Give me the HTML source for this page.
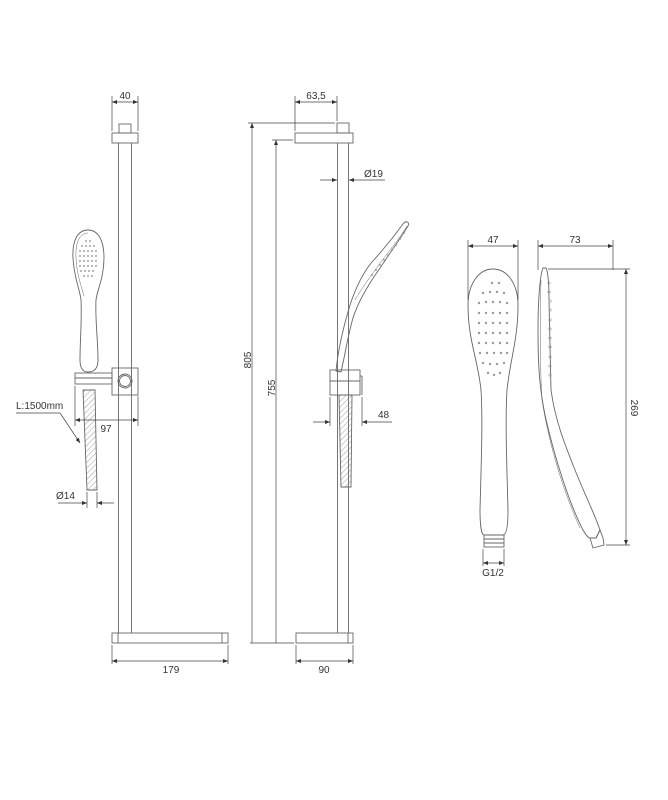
<!DOCTYPE html>
<html><head><meta charset="utf-8"><style>
html,body{margin:0;padding:0;background:#fff;}
svg{display:block;}
text{font-family:"Liberation Sans",sans-serif;font-size:10px;fill:#333;}
</style></head><body>
<svg width="668" height="800" viewBox="0 0 668 800" xmlns="http://www.w3.org/2000/svg">
<defs>
<marker id="a" viewBox="0 0 10 10" refX="10" refY="5" markerWidth="7" markerHeight="5" orient="auto-start-reverse" markerUnits="userSpaceOnUse"><path d="M0,1 L10,5 L0,9z" fill="#333"/></marker>
<pattern id="h" width="4" height="4" patternUnits="userSpaceOnUse" patternTransform="rotate(45)"><line x1="0" y1="0" x2="0" y2="4" stroke="#777" stroke-width="0.7"/></pattern>
</defs>
<g fill="none" stroke="#666" stroke-width="0.9">
<rect x="119" y="124" width="12" height="9"/>
<rect x="112" y="133" width="26" height="10"/>
<line x1="118.5" y1="143" x2="118.5" y2="633"/>
<line x1="131.5" y1="143" x2="131.5" y2="633"/>
<rect x="112" y="633" width="116" height="10"/>
<line x1="118" y1="633" x2="118" y2="643"/>
<line x1="222" y1="633" x2="222" y2="643"/>
<rect x="112" y="368" width="26" height="27"/>
<circle cx="125" cy="381" r="7"/><circle cx="125" cy="381" r="5.5"/>
<rect x="75" y="373" width="37" height="11"/>
<line x1="75" y1="378" x2="112" y2="378"/>
<path d="M83,390 L95,390 L97,490 L87,490 Z" fill="url(#h)"/>
<path d="M88,230 C78,230 72,240 73,258 C74,278 80,290 81,300 C82,320 80,340 80,360 C80,368 83,372 88,372 C95,372 98,368 98,360 C98,340 95,320 96,300 C97,290 104,278 104,258 C104,240 98,230 88,230 Z"/>
<path d="M88,233 C80,233 75,242 76,258 C77,276 82,288 84,296" stroke-width="0.5"/>
</g>
<g fill="#888">
<circle cx="86" cy="241" r="0.9"/><circle cx="90" cy="241" r="0.9"/>
<circle cx="82" cy="246" r="0.9"/><circle cx="86" cy="246" r="0.9"/><circle cx="90" cy="246" r="0.9"/><circle cx="94" cy="246" r="0.9"/>
<circle cx="80" cy="251" r="0.9"/><circle cx="84" cy="251" r="0.9"/><circle cx="88" cy="251" r="0.9"/><circle cx="92" cy="251" r="0.9"/><circle cx="96" cy="251" r="0.9"/>
<circle cx="80" cy="256" r="0.9"/><circle cx="84" cy="256" r="0.9"/><circle cx="88" cy="256" r="0.9"/><circle cx="92" cy="256" r="0.9"/><circle cx="96" cy="256" r="0.9"/>
<circle cx="80" cy="261" r="0.9"/><circle cx="84" cy="261" r="0.9"/><circle cx="88" cy="261" r="0.9"/><circle cx="92" cy="261" r="0.9"/><circle cx="96" cy="261" r="0.9"/>
<circle cx="80" cy="266" r="0.9"/><circle cx="84" cy="266" r="0.9"/><circle cx="88" cy="266" r="0.9"/><circle cx="92" cy="266" r="0.9"/><circle cx="96" cy="266" r="0.9"/>
<circle cx="81" cy="271" r="0.9"/><circle cx="85" cy="271" r="0.9"/><circle cx="89" cy="271" r="0.9"/><circle cx="93" cy="271" r="0.9"/>
<circle cx="84" cy="276" r="0.9"/><circle cx="88" cy="276" r="0.9"/><circle cx="92" cy="276" r="0.9"/>
</g>
<g fill="none" stroke="#444" stroke-width="0.7">
<line x1="112" y1="96" x2="112" y2="131"/><line x1="138" y1="96" x2="138" y2="131"/>
<line x1="112" y1="102" x2="138" y2="102" marker-start="url(#a)" marker-end="url(#a)"/>
<line x1="75" y1="386" x2="75" y2="426"/><line x1="138" y1="396" x2="138" y2="426"/>
<line x1="75" y1="420" x2="138" y2="420" marker-start="url(#a)" marker-end="url(#a)"/>
<line x1="16" y1="413" x2="60" y2="413"/>
<line x1="60" y1="413" x2="80" y2="443" marker-end="url(#a)"/>
<line x1="87" y1="492" x2="87" y2="508"/><line x1="97" y1="492" x2="97" y2="508"/>
<line x1="58" y1="503" x2="87" y2="503" marker-end="url(#a)"/>
<line x1="114" y1="503" x2="97" y2="503" marker-end="url(#a)"/>
<line x1="112" y1="645" x2="112" y2="664"/><line x1="228" y1="645" x2="228" y2="664"/>
<line x1="112" y1="661" x2="228" y2="661" marker-start="url(#a)" marker-end="url(#a)"/>
</g>
<text x="125" y="99" text-anchor="middle">40</text>
<text x="106" y="432" text-anchor="middle">97</text>
<text x="16" y="409">L:1500mm</text>
<text x="56" y="499">Ø14</text>
<text x="171" y="673" text-anchor="middle">179</text>

<g fill="none" stroke="#666" stroke-width="0.9">
<rect x="337" y="123" width="12" height="10"/>
<rect x="295" y="133" width="58" height="10"/>
<line x1="337.5" y1="143" x2="337.5" y2="633"/>
<line x1="348.5" y1="143" x2="348.5" y2="633"/>
<rect x="296" y="633" width="57" height="10"/>
<line x1="348" y1="633" x2="348" y2="643"/>
<rect x="330" y="370" width="30" height="11"/>
<rect x="330" y="381" width="30" height="14"/>
<line x1="360" y1="376" x2="362" y2="376"/><line x1="362" y1="376" x2="362" y2="395"/>
<path d="M339,395 L352,395 L351,487 L341,487 Z" fill="url(#h)"/>
<path d="M336,371 L341,372 C345,355 348,335 353,318 C358,302 368,285 380,268 C392,250 402,236 408,226 C410,222 406,220 403,224 C395,235 383,250 372,262 C362,274 355,290 350,305 C344,325 338,350 336,371 Z"/>
<path d="M355,300 C362,288 376,268 390,250 C398,240 404,231 407,226" stroke-width="0.5"/>
</g>
<g fill="#888">
<circle cx="372" cy="275" r="0.9"/><circle cx="376" cy="270" r="0.9"/><circle cx="380" cy="265" r="0.9"/><circle cx="384" cy="260" r="0.9"/><circle cx="388" cy="255" r="0.9"/><circle cx="392" cy="250" r="0.9"/><circle cx="396" cy="245" r="0.9"/><circle cx="400" cy="239" r="0.9"/><circle cx="404" cy="233" r="0.9"/>
</g>
<g fill="none" stroke="#444" stroke-width="0.7">
<line x1="295" y1="96" x2="295" y2="131"/><line x1="337" y1="96" x2="337" y2="121"/>
<line x1="295" y1="102" x2="337" y2="102" marker-start="url(#a)" marker-end="url(#a)"/>
<line x1="248" y1="123" x2="335" y2="123"/>
<line x1="272" y1="140" x2="293" y2="140"/>
<line x1="252" y1="643" x2="252" y2="123" marker-end="url(#a)"/>
<line x1="276" y1="643" x2="276" y2="140" marker-end="url(#a)"/>
<line x1="250" y1="643" x2="294" y2="643"/>
<line x1="320" y1="180" x2="337" y2="180" marker-end="url(#a)"/>
<line x1="385" y1="180" x2="349" y2="180" marker-end="url(#a)"/>
<line x1="330" y1="397" x2="330" y2="426"/><line x1="362" y1="397" x2="362" y2="426"/>
<line x1="313" y1="422" x2="330" y2="422" marker-end="url(#a)"/>
<line x1="392" y1="422" x2="362" y2="422" marker-end="url(#a)"/>
<line x1="296" y1="645" x2="296" y2="664"/><line x1="353" y1="645" x2="353" y2="664"/>
<line x1="296" y1="661" x2="353" y2="661" marker-start="url(#a)" marker-end="url(#a)"/>
</g>
<text x="316" y="99" text-anchor="middle">63,5</text>
<text x="364" y="177">Ø19</text>
<text x="378" y="418">48</text>
<text x="324" y="673" text-anchor="middle">90</text>
<text transform="translate(251,360) rotate(-90)" text-anchor="middle">805</text>
<text transform="translate(275,388) rotate(-90)" text-anchor="middle">755</text>

<g fill="none" stroke="#666" stroke-width="0.9">
<path d="M493,269 C478,269 468,285 468,305 C468,340 478,360 481,390 C483,420 481,470 480,510 C480,528 482,535 484,535 L503,535 C506,535 508,528 508,510 C507,470 505,420 507,390 C510,360 518,340 518,305 C518,285 508,269 493,269 Z"/>
<rect x="484" y="535" width="20" height="12"/>
<line x1="484" y1="539" x2="504" y2="539"/><line x1="484" y1="543" x2="504" y2="543"/>
</g>
<g fill="#999">
<circle cx="492" cy="283" r="1.2"/><circle cx="499" cy="283" r="1.2"/>
<circle cx="483" cy="293" r="1.2"/><circle cx="490" cy="292" r="1.2"/><circle cx="497" cy="292" r="1.2"/><circle cx="504" cy="293" r="1.2"/>
<circle cx="479" cy="303" r="1.2"/><circle cx="486" cy="302" r="1.2"/><circle cx="493" cy="302" r="1.2"/><circle cx="500" cy="302" r="1.2"/><circle cx="507" cy="303" r="1.2"/>
<circle cx="479" cy="313" r="1.2"/><circle cx="486" cy="313" r="1.2"/><circle cx="493" cy="313" r="1.2"/><circle cx="500" cy="313" r="1.2"/><circle cx="507" cy="313" r="1.2"/>
<circle cx="479" cy="323" r="1.2"/><circle cx="486" cy="323" r="1.2"/><circle cx="493" cy="323" r="1.2"/><circle cx="500" cy="323" r="1.2"/><circle cx="507" cy="323" r="1.2"/>
<circle cx="479" cy="333" r="1.2"/><circle cx="486" cy="333" r="1.2"/><circle cx="493" cy="333" r="1.2"/><circle cx="500" cy="333" r="1.2"/><circle cx="507" cy="333" r="1.2"/>
<circle cx="479" cy="343" r="1.2"/><circle cx="486" cy="343" r="1.2"/><circle cx="493" cy="343" r="1.2"/><circle cx="500" cy="343" r="1.2"/><circle cx="507" cy="343" r="1.2"/>
<circle cx="480" cy="353" r="1.2"/><circle cx="487" cy="353" r="1.2"/><circle cx="494" cy="353" r="1.2"/><circle cx="501" cy="353" r="1.2"/><circle cx="507" cy="353" r="1.2"/>
<circle cx="483" cy="363" r="1.2"/><circle cx="490" cy="364" r="1.2"/><circle cx="497" cy="364" r="1.2"/><circle cx="504" cy="363" r="1.2"/>
<circle cx="488" cy="373" r="1.2"/><circle cx="494" cy="375" r="1.2"/><circle cx="500" cy="373" r="1.2"/>
</g>
<g fill="none" stroke="#666" stroke-width="0.9">
<path d="M543,268 C540,275 538,300 538,330 C538,370 540,390 545,415 C555,460 570,505 583,530 C586,535 588,538 590,538 L596,538 L600,530 C595,515 585,495 575,470 C565,445 555,420 551,390 L549,300 C549,285 548,272 546,268 Z"/>
<path d="M541,280 C540,320 540,370 542,400 C550,450 565,495 580,528" stroke-width="0.5"/>
<path d="M590,538 L596,538 L600,530 L603,538 L604,545 L593,548 Z"/>
</g>
<g fill="none" stroke="#999" stroke-width="0.6">
<circle cx="549" cy="283" r="1.2"/><circle cx="549" cy="292" r="1.2"/><circle cx="550" cy="301" r="1.2"/><circle cx="550" cy="310" r="1.2"/><circle cx="550" cy="320" r="1.2"/><circle cx="550" cy="329" r="1.2"/><circle cx="550" cy="338" r="1.2"/><circle cx="550" cy="347" r="1.2"/><circle cx="550" cy="357" r="1.2"/><circle cx="550" cy="366" r="1.2"/><circle cx="550" cy="375" r="1.2"/>
</g>
<g fill="none" stroke="#444" stroke-width="0.7">
<line x1="468" y1="240" x2="468" y2="300"/><line x1="518" y1="240" x2="518" y2="300"/>
<line x1="468" y1="246" x2="518" y2="246" marker-start="url(#a)" marker-end="url(#a)"/>
<line x1="538" y1="240" x2="538" y2="270"/><line x1="613" y1="240" x2="613" y2="270"/>
<line x1="538" y1="246" x2="613" y2="246" marker-start="url(#a)" marker-end="url(#a)"/>
<line x1="548" y1="269" x2="630" y2="269"/><line x1="606" y1="545" x2="630" y2="545"/>
<line x1="626" y1="269" x2="626" y2="545" marker-start="url(#a)" marker-end="url(#a)"/>
<line x1="483" y1="549" x2="483" y2="566"/><line x1="504" y1="549" x2="504" y2="566"/>
<line x1="483" y1="563" x2="504" y2="563" marker-start="url(#a)" marker-end="url(#a)"/>
</g>
<text x="493" y="243" text-anchor="middle">47</text>
<text x="575" y="243" text-anchor="middle">73</text>
<text x="493" y="576" text-anchor="middle">G1/2</text>
<text transform="translate(631,408) rotate(90)" text-anchor="middle">269</text>
</svg>
</body></html>
